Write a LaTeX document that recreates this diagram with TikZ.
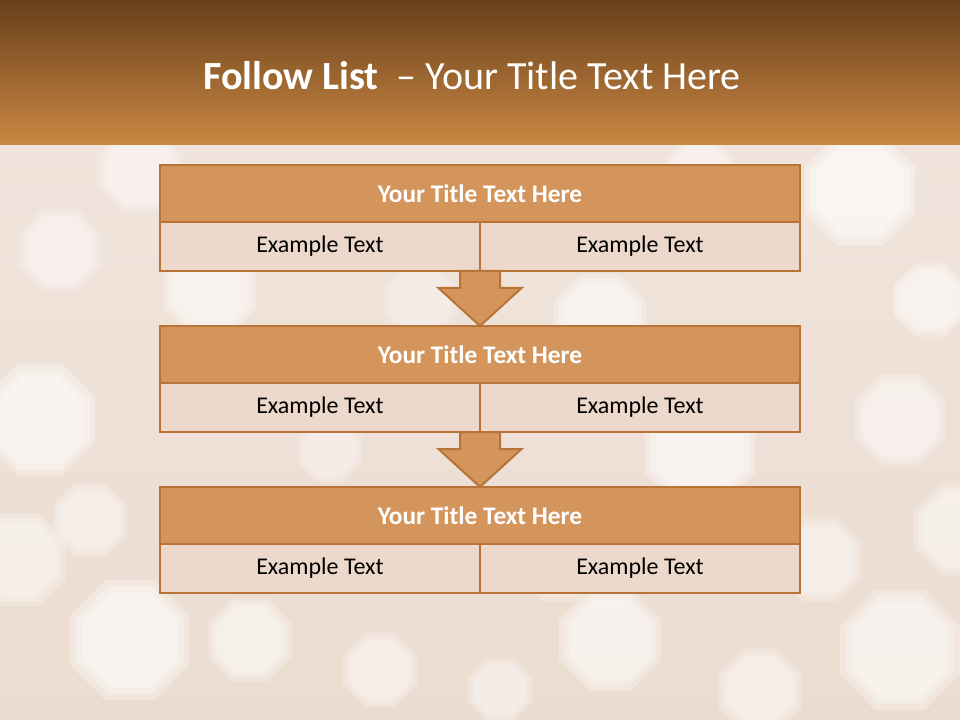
\documentclass[tikz,border=0pt]{standalone}
\usepackage{fontspec}
\setmainfont{Carlito}
\usetikzlibrary{calc}

\definecolor{bandtop}{RGB}{104,64,26}
\definecolor{bandbottom}{RGB}{202,136,68}
\definecolor{bgtop}{RGB}{240,228,220}
\definecolor{bgbottom}{RGB}{236,220,208}
\definecolor{boxline}{RGB}{184,116,54}
\definecolor{titlefill}{RGB}{211,149,92}
\definecolor{rowfill}{RGB}{237,217,203}

\tikzset{
  titlerow/.style={draw=boxline, fill=titlefill, line width=1.5pt,
    minimum width=480pt, minimum height=42.75pt, inner sep=0pt, outer sep=0pt,
    text=white, font=\bfseries\fontsize{19}{23}\selectfont},
  textrow/.style={draw=boxline, fill=rowfill, line width=1.5pt,
    minimum width=240pt, minimum height=36.75pt, inner sep=0pt, outer sep=0pt,
    text=black, font=\fontsize{18}{22}\selectfont},
  downarrow/.style={draw=boxline, fill=titlefill, line width=1.5pt, line join=miter},
  bokeh/.style={fill=white, opacity=#1}
}

\begin{document}
\begin{tikzpicture}[x=0.75pt,y=-0.75pt]
\useasboundingbox (0,0) rectangle (960,720);
% background
\shade[top color=bgtop, bottom color=bgbottom] (0,145) rectangle (960,720);
\foreach \x/\y/\r/\o in {40/420/60/0.3, 130/640/65/0.3, 210/290/50/0.25, 60/250/45/0.2,
    20/560/50/0.22, 250/640/45/0.25, 600/320/50/0.28, 700/450/60/0.3, 860/190/60/0.3,
    900/650/65/0.28, 610/640/55/0.28, 900/420/50/0.22, 820/560/45/0.2, 380/670/40/0.22,
    140/170/45/0.22, 700/170/35/0.2, 930/300/40/0.25, 500/690/35/0.2, 330/450/35/0.18,
    760/690/45/0.22, 560/560/45/0.2, 90/520/40/0.2, 960/530/50/0.22, 420/300/40/0.15}
  \foreach \k in {1,0.9,0.8}
    \fill[bokeh=\o] (\x,\y) +(22.5:\r*\k) \foreach \a in {67.5,112.5,...,337.5}{-- +(\a:\r*\k)} -- cycle;
% title band
\shade[top color=bandtop, bottom color=bandbottom] (0,0) rectangle (960,145);
\node[text=white, font=\fontsize{30}{36}\selectfont] (title) at (472,76)
  {\textbf{Follow List}\ \ – Your Title Text Here};
% blocks
\foreach \i/\yt in {1/165,2/326,3/487}{
  \node[titlerow] (t\i) at (480,\yt+28.5) {Your Title Text Here};
  \node[textrow, anchor=north east] (l\i) at (t\i.south) {Example Text};
  \node[textrow, anchor=north west] (r\i) at (t\i.south) {Example Text};
}
% arrows
\foreach \i/\j in {1/2,2/3}
  \draw[downarrow] ($(l\i.south east)+(-20,0)$) -- ++(0,17) -- ++(-21.5,0)
    -- (t\j.north) -- ($(l\i.south east)+(41.5,17)$)
    -- ($(l\i.south east)+(20,17)$) -- ($(l\i.south east)+(20,0)$) -- cycle;
\end{tikzpicture}
\end{document}
